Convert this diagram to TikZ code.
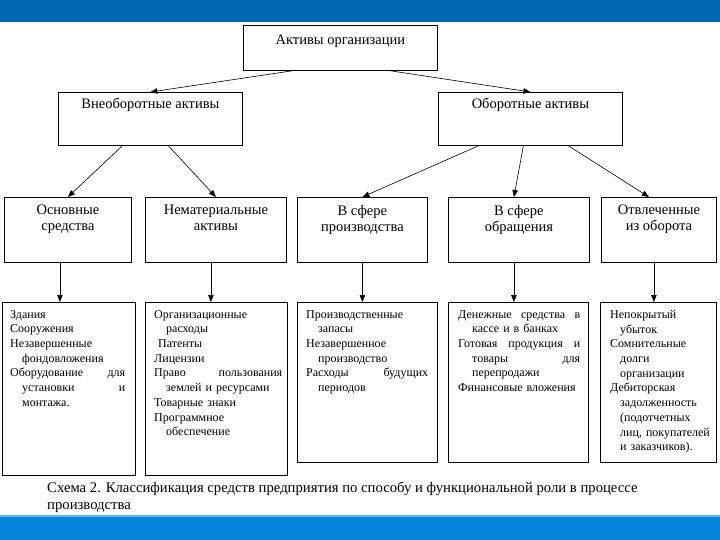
\documentclass[tikz,border=0pt]{standalone}
\usepackage{fontspec}
\setmainfont{Liberation Serif}
\usetikzlibrary{positioning,arrows.meta}
\definecolor{bandtop}{HTML}{0067B2}
\definecolor{bandbot}{HTML}{0884DA}
\definecolor{bandline}{HTML}{5DB6EC}

\begin{document}
\begin{tikzpicture}[
  x=1pt,y=-1pt,
  frame/.style={draw,line width=0.8pt,anchor=north west,inner sep=0pt},
  ttl/.style={anchor=north,align=center,inner sep=0pt,font=\fontsize{14.5}{16}\selectfont,execute at begin node=\strut},
  lst/.style={anchor=north west,align=left,inner sep=0pt,font=\fontsize{12}{14.7}\selectfont},
  arr/.style={-{Triangle[length=7pt,width=5.5pt]},line width=0.6pt}
]
\useasboundingbox (0,0) rectangle (720,540);
% slide bands
\fill[bandtop] (0,0) rectangle (720,22);
\fill[bandbot] (0,516) rectangle (720,540);
\fill[bandline] (0,515) rectangle (720,517);
% level 1 and 2
\node[frame,minimum width=194,minimum height=45] (akt) at (243,25) {};
\node[ttl,below=8pt of akt.north] (aktT) {Активы организации};
\node[frame,minimum width=184,minimum height=53] (vna) at (58,92) {};
\node[ttl,below=5pt of vna.north] (vnaT) {Внеоборотные активы};
\node[frame,minimum width=184,minimum height=53] (oba) at (438,92) {};
\node[ttl,below=5pt of oba.north] (obaT) {Оборотные активы};
% level 3
\node[frame,minimum width=127,minimum height=65] (os) at (4,197) {};
\node[ttl,below=8pt of os.north] (osT) {Основные\\средства};
\node[frame,minimum width=141,minimum height=65] (nm) at (145,197) {};
\node[ttl,below=8pt of nm.north] (nmT) {Нематериальные\\активы};
\node[frame,minimum width=130,minimum height=65] (vp) at (297,197) {};
\node[ttl,below=8pt of vp.north] (vpT) {В сфере\\производства};
\node[frame,minimum width=141,minimum height=65] (vo) at (448,197) {};
\node[ttl,below=8pt of vo.north] (voT) {В сфере\\обращения};
\node[frame,minimum width=115,minimum height=65] (ot) at (601,197) {};
\node[ttl,below=8pt of ot.north] (otT) {Отвлеченные\\из оборота};
% level 4
\node[frame,minimum width=133,minimum height=173] (osL) at (2,302) {};
\node[lst,text width=115,below right=8pt and 8pt of osL.north west] (osLT) {%
Здания\\
Сооружения\\
Незавершенные\\
\hspace*{12pt}фондовложения\\
Оборудование \hfill для\\
\hspace*{12pt}установки \hfill и\\
\hspace*{12pt}монтажа.};
\node[frame,minimum width=142,minimum height=173] (nmL) at (145,302) {};
\node[lst,text width=128,below right=8pt and 9pt of nmL.north west] (nmLT) {%
Организационные\\
\hspace*{12pt}расходы\\
\hspace*{4pt}Патенты\\
Лицензии\\
Право \hfill пользования\\
\hspace*{12pt}землей и ресурсами\\
Товарные знаки\\
Программное\\
\hspace*{12pt}обеспечение};
\node[frame,minimum width=140,minimum height=160] (vpL) at (297,302) {};
\node[lst,text width=122,below right=8pt and 9pt of vpL.north west] (vpLT) {%
Производственные\\
\hspace*{12pt}запасы\\
Незавершенное\\
\hspace*{12pt}производство\\
Расходы \hfill будущих\\
\hspace*{12pt}периодов};
\node[frame,minimum width=140,minimum height=160] (voL) at (448,302) {};
\node[lst,text width=122,below right=8pt and 10pt of voL.north west] (voLT) {%
Денежные \hfill средства \hfill в\\
\hspace*{14pt}кассе и в банках\\
Готовая \hfill продукция \hfill и\\
\hspace*{14pt}товары \hfill для\\
\hspace*{14pt}перепродажи\\
Финансовые вложения};
\node[frame,minimum width=116,minimum height=160] (otL) at (600,302) {};
\node[lst,text width=104,below right=8pt and 10pt of otL.north west] (otLT) {%
Непокрытый\\
\hspace*{10pt}убыток\\
Сомнительные\\
\hspace*{10pt}долги\\
\hspace*{10pt}организации\\
Дебиторская\\
\hspace*{10pt}задолженность\\
\hspace*{10pt}(подотчетных\\
\hspace*{10pt}\mbox{лиц, покупателей}\\
\hspace*{10pt}и заказчиков).};
% caption
\node[anchor=north west,align=left,inner sep=0pt,font=\fontsize{14.7}{17}\selectfont] (cap) at (47,482)
  {Схема 2. Классификация средств предприятия по способу и функциональной роли в процессе\\производства};
% connectors
\draw[arr] ([xshift=-48pt]akt.south) -- (vna.north);
\draw[arr] ([xshift=50pt]akt.south) -- (oba.north);
\draw[arr] ([xshift=-28pt]vna.south) -- (os.north);
\draw[arr] ([xshift=18pt]vna.south) -- (nm.north);
\draw[arr] ([xshift=-52pt]oba.south) -- (vp.north);
\draw[arr] ([xshift=-7pt]oba.south) -- ([xshift=-5pt]vo.north);
\draw[arr] ([xshift=38pt]oba.south) -- ([xshift=-10pt]ot.north);
\draw[arr] ([xshift=-8pt]os.south) -- ([xshift=-8pt]os.south |- osL.north);
\draw[arr] ([xshift=-5pt]nm.south) -- ([xshift=-5pt]nm.south |- nmL.north);
\draw[arr] (vp.south) -- (vp.south |- vpL.north);
\draw[arr] ([xshift=-5pt]vo.south) -- ([xshift=-5pt]vo.south |- voL.north);
\draw[arr] ([xshift=-5pt]ot.south) -- ([xshift=-5pt]ot.south |- otL.north);
\end{tikzpicture}
\end{document}
